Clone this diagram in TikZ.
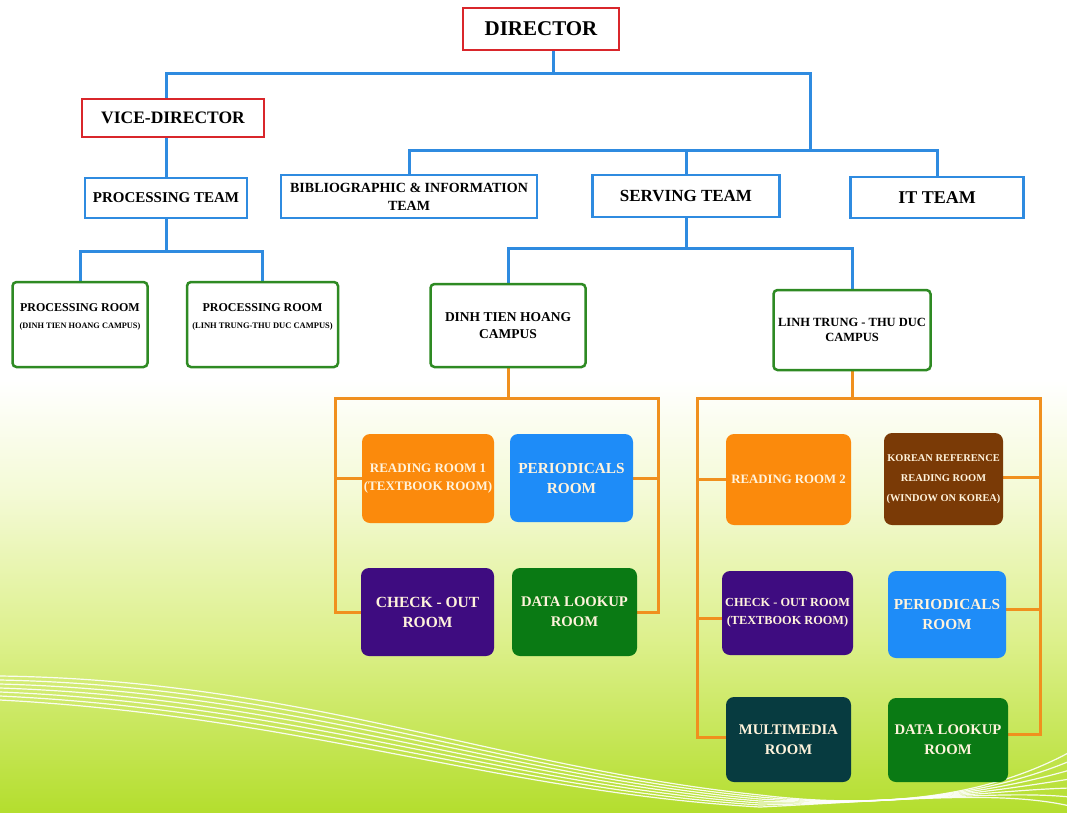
\documentclass[tikz,border=0pt]{standalone}
\usepackage{fontspec}
\setmainfont{Liberation Serif}
\pgfdeclarelayer{bglayer}
\pgfdeclarelayer{lines}
\pgfsetlayers{bglayer,lines,main}
\definecolor{redb}{HTML}{D9262B}
\definecolor{blueb}{HTML}{2F8BE0}
\definecolor{greenb}{HTML}{2E8A23}
\definecolor{orl}{HTML}{F0901E}
\definecolor{cOr}{HTML}{FB8A0C}
\definecolor{cBl}{HTML}{1E8CF8}
\definecolor{cPu}{HTML}{3E0C80}
\definecolor{cGr}{HTML}{0A7A14}
\definecolor{cBr}{HTML}{7A3A06}
\definecolor{cTe}{HTML}{073B40}
\definecolor{txtw}{HTML}{FFF3DC}
\definecolor{g1}{HTML}{F4FAD6}
\definecolor{g2}{HTML}{DDF08C}
\definecolor{g3}{HTML}{B4DE2E}
\pgfdeclareverticalshading{bgshade}{100bp}{color(0bp)=(g3); color(25bp)=(g3); color(45bp)=(g2); color(62bp)=(g1); color(75bp)=(white); color(100bp)=(white)}
\newcommand\fsz[2]{\fontsize{#1}{#2}\selectfont}
\tikzset{
  topbox/.style={draw=redb, line width=2.5pt, fill=white, inner sep=0pt, align=center},
  teambox/.style={draw=blueb, line width=2.5pt, fill=white, align=center, inner sep=0pt},
  campbox/.style={draw=greenb, line width=2.5pt, rounded corners=4pt, fill=white, align=center, inner sep=0pt},
  room/.style={rounded corners=8pt, text=txtw, align=center, inner sep=0pt},
  fs/.style 2 args={font=\bfseries\fsz{#1}{#2}},
  bl/.style={draw=blueb, line width=3pt},
  ol/.style={draw=orl, line width=3pt},
  wave/.style={draw=white, line width=1.2pt, opacity=0.9}
}
\begin{document}
\begin{tikzpicture}[x=1pt,y=-1pt]
\useasboundingbox (0,0) rectangle (1067,812);
\begin{pgfonlayer}{bglayer}
  \fill[white] (0,0) rectangle (1067,812);
  \fill[shading=bgshade] (0,380) rectangle (1067,812);
  \begin{scope}
    \clip (0,0) rectangle (1067,812);
    \foreach \i in {0,...,6} {
      \draw[wave] (0,{676+4*\i}) .. controls (300,{680+6*\i}) and (500,{768+4*\i}) .. (760,{795+2*\i})
        .. controls (900,{812-2*\i}) and (1000,{790}) .. (1070,{752+9*\i});
    }
  \end{scope}
\end{pgfonlayer}

% top level
\node[topbox, fs={21}{24}, minimum width=156pt, minimum height=42pt] (dir) at (541,29) {DIRECTOR};
\node[topbox, fs={17.5}{20}, minimum width=182pt, minimum height=38pt] (vice) at (173,118) {VICE-DIRECTOR};
\node[teambox, fs={15}{18}, minimum width=162pt, minimum height=40pt] (pteam) at (166,198) {PROCESSING TEAM};
\node[teambox, fs={14}{18}, minimum width=256pt, minimum height=43pt] (bib) at (409,196.5) {BIBLIOGRAPHIC \& INFORMATION\\TEAM};
\node[teambox, fs={17}{20}, minimum width=187pt, minimum height=42pt] (serve) at (686,196) {SERVING TEAM};
\node[teambox, fs={18}{20}, minimum width=173pt, minimum height=41pt] (it) at (937,197.5) {IT TEAM};

% processing rooms
\node[campbox, fs={12}{14}, minimum width=135pt, minimum height=85pt] (pr1) at (80,324.5) {PROCESSING ROOM\\[3pt]{\fsz{8.3}{10}(DINH TIEN HOANG CAMPUS)}\\[2pt]};
\node[campbox, fs={12}{14}, minimum width=151pt, minimum height=85pt] (pr2) at (262.5,324.5) {PROCESSING ROOM\\[3pt]{\fsz{8.5}{10}(LINH TRUNG-THU DUC CAMPUS)}\\[2pt]};

% campuses
\node[campbox, fs={13.5}{17}, minimum width=155pt, minimum height=83pt] (dth) at (508,325.5) {DINH TIEN HOANG\\CAMPUS};
\node[campbox, fs={12.5}{15}, minimum width=157pt, minimum height=80pt] (lt) at (852,330) {LINH TRUNG - THU DUC\\CAMPUS};

% DTH rooms
\node[room, fill=cOr, fs={13}{18}, minimum width=132pt, minimum height=89pt] (rr1) at (428,478.5) {READING ROOM 1\\(TEXTBOOK ROOM)};
\node[room, fill=cBl, fs={15.3}{20}, minimum width=123pt, minimum height=88pt] (per1) at (571.5,478) {PERIODICALS\\ROOM};
\node[room, fill=cPu, fs={15.5}{20}, minimum width=133pt, minimum height=88pt] (co1) at (427.5,612) {CHECK - OUT\\ROOM};
\node[room, fill=cGr, fs={14.7}{20}, minimum width=125pt, minimum height=88pt] (da1) at (574.5,612) {DATA LOOKUP\\ROOM};

% LT rooms
\node[room, fill=cOr, fs={12.8}{18}, minimum width=125pt, minimum height=91pt] (rr2) at (788.5,479.5) {READING ROOM 2};
\node[room, fill=cBr, fs={10.4}{20}, minimum width=119pt, minimum height=92pt] (kor) at (943.5,479) {KOREAN REFERENCE\\READING ROOM\\(WINDOW ON KOREA)};
\node[room, fill=cPu, fs={12.3}{18}, minimum width=131pt, minimum height=84pt] (co2) at (787.5,613) {CHECK - OUT ROOM\\(TEXTBOOK ROOM)};
\node[room, fill=cBl, fs={15.3}{20}, minimum width=118pt, minimum height=87pt] (per2) at (947,614.5) {PERIODICALS\\ROOM};
\node[room, fill=cTe, fs={14.7}{20}, minimum width=125pt, minimum height=85pt] (mm) at (788.5,739.5) {MULTIMEDIA\\ROOM};
\node[room, fill=cGr, fs={14.7}{20}, minimum width=120pt, minimum height=84pt] (da2) at (948,740) {DATA LOOKUP\\ROOM};

\coordinate (tb) at (810,150);
\coordinate (dl) at (335,398);
\coordinate (dr) at (658,398);
\coordinate (ll) at (697,398);
\coordinate (lr) at (1040,398);

\begin{pgfonlayer}{lines}
  \draw[bl] ([xshift=12pt]dir.south) -- ++(0,22) -| ([xshift=-7pt]vice.north);
  \draw[bl] ([xshift=12pt]dir.south) -- ++(0,22) -| (tb);
  \draw[bl] (bib.north) |- (tb);
  \draw[bl] (it.north) |- (tb);
  \draw[bl] (serve.north) -- (serve.north |- tb);
  \draw[bl] ([xshift=-7pt]vice.south) -- (pteam.north);
  \draw[bl] (pteam.south) -- ++(0,32) -| (pr1.north);
  \draw[bl] (pteam.south) -- ++(0,32) -| (pr2.north);
  \draw[bl] (serve.south) -- ++(0,30) -| (dth.north);
  \draw[bl] (serve.south) -- ++(0,30) -| (lt.north);

  \draw[ol] (dth.south) -- (dth.south |- dl);
  \draw[ol] (rr1.west) -| (dl) -- (dr) |- (per1.east);
  \draw[ol] (co1.west) -| (dl);
  \draw[ol] (da1.east) -| (dr);

  \draw[ol] (lt.south) -- (lt.south |- ll);
  \draw[ol] ([yshift=2pt]mm.west) -| (ll) -- (lr) |- ([yshift=6pt]da2.east);
  \draw[ol] (rr2.west) -| (ll);
  \draw[ol] ([yshift=-5pt]co2.west) -| (ll);
  \draw[ol] ([yshift=2pt]kor.east) -| (lr);
  \draw[ol] ([yshift=5pt]per2.east) -| (lr);
\end{pgfonlayer}
\end{tikzpicture}
\end{document}
